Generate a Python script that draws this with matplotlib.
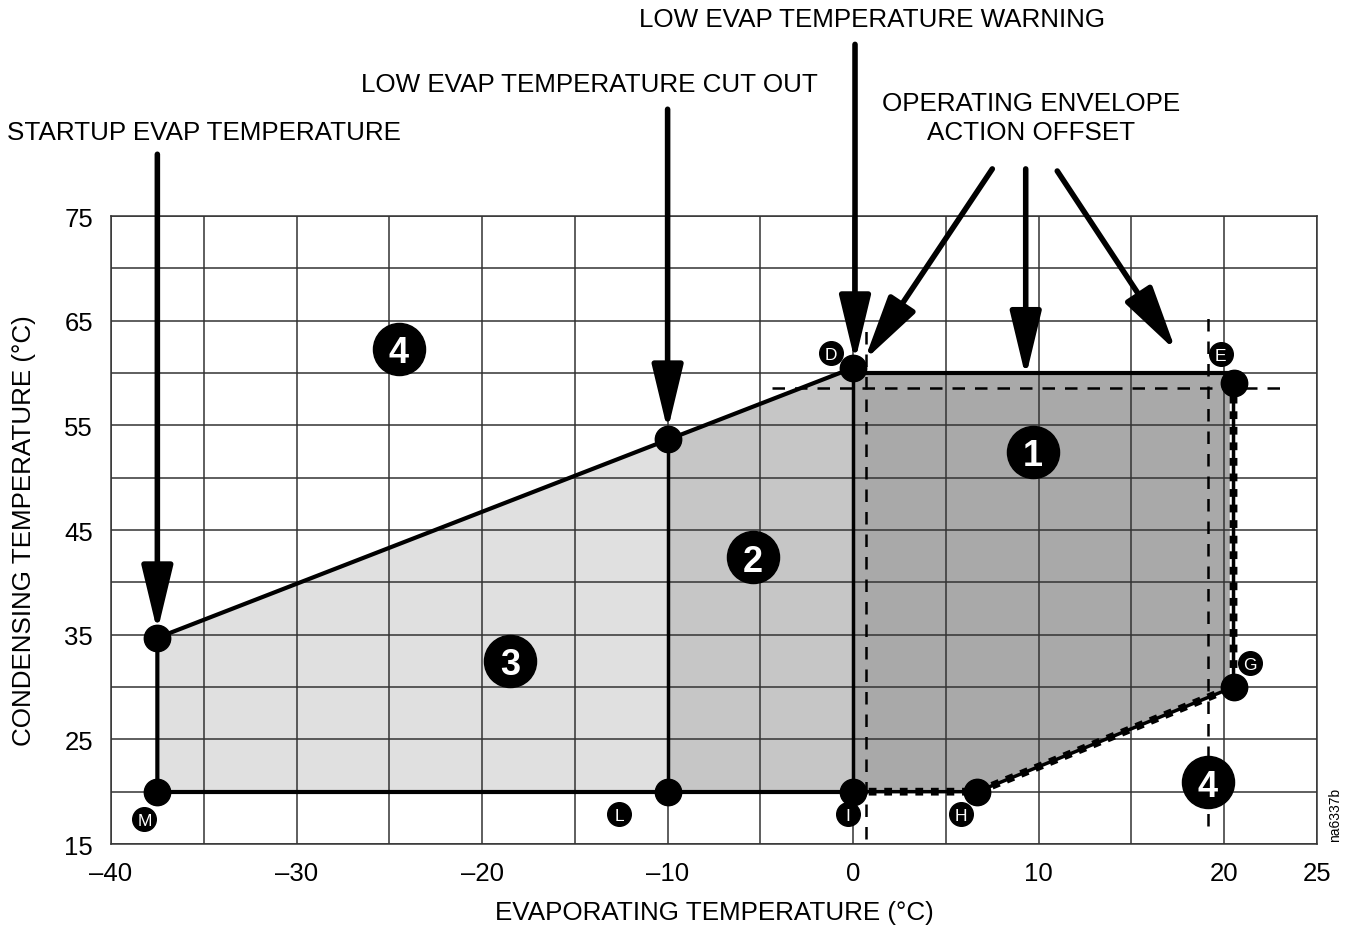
import matplotlib.pyplot as plt

plt.rcParams['font.family'] = ['Liberation Sans', 'DejaVu Sans']

# envelope corner points (evap temp, cond temp)
start_top = (-37.5, 34.7)
start_bot = (-37.5, 20.0)
cut_top = (-10.0, 53.7)
cut_bot = (-10.0, 20.0)
d_pt = (0.0, 60.5)
i_pt = (0.0, 20.0)
h_pt = (6.7, 20.0)
g_pt = (20.5, 30.0)
e_pt = (20.5, 59.0)
top_y = 60.0

# zone polygons
zone3 = [start_bot, start_top, cut_top, cut_bot]
zone2 = [cut_bot, cut_top, d_pt, i_pt]
zone1 = [i_pt, (0.0, top_y), (20.3, top_y), (20.3, 30.0), h_pt]

# offset (dashed) lines
offset_h = ([-4.4, 23.0], [58.6, 58.6])
offset_v1 = ([0.7, 0.7], [15.5, 64.0])
offset_v2 = ([19.1, 19.1], [16.7, 65.3])

# circled zone numbers
zone_labels = ['4', '1', '2', '3', '4']
zone_x = [-24.5, 9.7, -5.4, -18.5, 19.1]
zone_y = [62.3, 52.5, 42.4, 32.5, 20.9]

# circled point letters
pt_labels = ['D', 'E', 'G', 'I', 'H', 'L', 'M']
pt_x = [-1.2, 19.8, 21.4, -0.3, 5.8, -12.6, -38.2]
pt_y = [61.9, 61.8, 32.3, 17.9, 17.9, 17.9, 17.4]

# arrows: start (x, y) -> tip (x, y)
arrows = [
    ((-37.5, 80.9), (-37.5, 35.3)),
    ((-10.0, 85.2), (-10.0, 54.5)),
    ((0.1, 91.4), (0.1, 61.1)),
    ((7.5, 79.5), (0.6, 61.2)),
    ((9.3, 79.5), (9.3, 59.6)),
    ((11.0, 79.3), (17.4, 62.1)),
]
headers = ['STARTUP EVAP TEMPERATURE', 'LOW EVAP TEMPERATURE CUT OUT',
           'LOW EVAP TEMPERATURE WARNING', 'OPERATING ENVELOPE\nACTION OFFSET']
header_x = [-35.0, -14.2, 1.0, 9.6]
header_y = [83.0, 87.6, 93.8, 84.4]

fig = plt.figure(figsize=(13.45, 9.29), dpi=100)
ax = fig.add_axes([0.0825, 0.0904, 0.8967, 0.676])

ax.fill([p[0] for p in zone3], [p[1] for p in zone3], color='#e0e0e0', zorder=0.2, lw=0)
ax.fill([p[0] for p in zone2], [p[1] for p in zone2], color='#c6c6c6', zorder=0.2, lw=0)
ax.fill([p[0] for p in zone1], [p[1] for p in zone1], color='#a9a9a9', zorder=0.2, lw=0)

ax.set_xlim(-40, 25)
ax.set_ylim(15, 75)
xt = [-40, -30, -20, -10, 0, 10, 20, 25]
ax.set_xticks(xt)
ax.set_xticklabels([str(v).replace('-', '\u2013') for v in xt])
ax.set_xticks([-35, -25, -15, -5, 5, 15], minor=True)
yt = [15, 25, 35, 45, 55, 65, 75]
ax.set_yticks(yt)
ax.set_yticks([20, 30, 40, 50, 60, 70], minor=True)
ax.tick_params(which='both', length=0, labelsize=18.5)
ax.tick_params(axis='x', pad=12)
ax.tick_params(axis='y', pad=13)
ax.set_axisbelow(True)
ax.grid(which='both', color='#333333', lw=1.1)
for s in ax.spines.values():
    s.set_color('#333333')
    s.set_linewidth(1.1)

ax.set_xlabel('EVAPORATING TEMPERATURE (°C)', fontsize=18.7, labelpad=11)
ax.set_ylabel('CONDENSING TEMPERATURE (°C)', fontsize=18.7, labelpad=20)

# envelope solid lines
ax.plot([start_bot[0], start_top[0], d_pt[0]], [start_bot[1], start_top[1], d_pt[1]], color='k', lw=3, zorder=3)
ax.plot([start_bot[0], i_pt[0]], [start_bot[1], i_pt[1]], color='k', lw=3, zorder=3)
ax.plot([cut_bot[0], cut_top[0]], [cut_bot[1], cut_top[1]], color='k', lw=2.5, zorder=3)
ax.plot([i_pt[0], d_pt[0]], [i_pt[1], d_pt[1]], color='k', lw=2.5, zorder=3)
ax.plot([0.0, e_pt[0]], [top_y, top_y], color='k', lw=3, zorder=3)

# dotted envelope section
px = [i_pt[0], h_pt[0], g_pt[0], e_pt[0]]
py = [i_pt[1], h_pt[1], g_pt[1], e_pt[1]]
ax.plot(px, py, color='k', lw=2.5, zorder=3)
ax.plot(px, py, color='k', lw=5.6, ls=(0, (1.0, 1.0)), dash_capstyle='butt', zorder=3)

# offset dashed lines
for lx, ly in [offset_h, offset_v1, offset_v2]:
    ax.plot(lx, ly, color='k', lw=1.8, ls=(0, (5, 4)), zorder=2, clip_on=False)

# points
pts = [start_top, start_bot, cut_top, cut_bot, d_pt, i_pt, h_pt, g_pt, e_pt]
ax.plot([p[0] for p in pts], [p[1] for p in pts], 'o', color='k', ms=19, zorder=5)

# zone numbers
ax.plot(zone_x, zone_y, 'o', color='k', ms=37.5, zorder=6)
for t, x, y in zip(zone_labels, zone_x, zone_y):
    ax.text(x, y, t, color='white', fontsize=26, fontweight='bold', ha='center', va='center_baseline', zorder=7)

# point letters
ax.plot(pt_x, pt_y, 'o', color='k', ms=17, zorder=6)
for t, x, y in zip(pt_labels, pt_x, pt_y):
    ax.text(x, y, t, color='white', fontsize=12.5, ha='center', va='center_baseline', zorder=7)

# arrows
for (sx, sy), (tx, ty) in arrows:
    ax.annotate('', xy=(tx, ty), xytext=(sx, sy), annotation_clip=False,
                arrowprops=dict(arrowstyle='-|>,head_length=2.0,head_width=0.48',
                                mutation_scale=20, color='k', lw=4.0, shrinkA=0, shrinkB=0))

for t, x, y in zip(headers, header_x, header_y):
    ax.text(x, y, t, fontsize=18.7, ha='center', va='center', linespacing=1.28, clip_on=False)

fig.text(1335 / 1345, 1 - 815 / 929, 'na6337b', fontsize=10, rotation=90, ha='center', va='center')

fig.savefig('out.png', dpi=100)
